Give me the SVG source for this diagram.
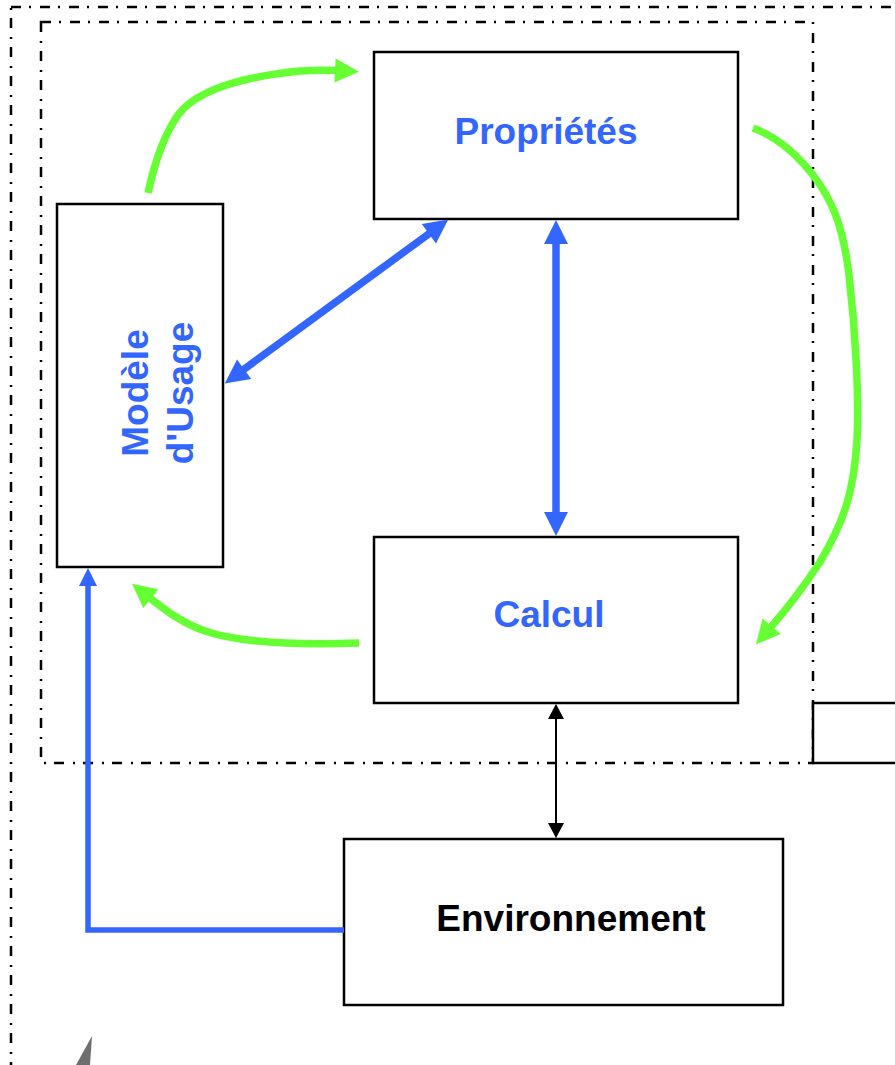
<svg xmlns="http://www.w3.org/2000/svg" width="895" height="1065" viewBox="0 0 895 1065">
  <style>
    .frame { fill: none; stroke: #000; stroke-width: 2.5; stroke-dasharray: 10 8 2 9; }
    .box { fill: #fff; stroke: #000; stroke-width: 2.5; }
    .label { font-family: "Liberation Sans", Arial, sans-serif; font-weight: bold; font-size: 37px; text-anchor: middle; }
    .blue-text { fill: #3366ff; }
    .black-text { fill: #000; }
    .green { fill: none; stroke: #66ff33; stroke-width: 7.5; }
    .blue { fill: none; stroke: #3366ff; stroke-width: 7.5; }
    .blue-thin { fill: none; stroke: #3366ff; stroke-width: 5.5; }
    .black { fill: none; stroke: #000; stroke-width: 2; }
  </style>
  <defs>
    <marker id="head-green" markerUnits="userSpaceOnUse" markerWidth="30" markerHeight="30" refX="1" refY="0" viewBox="0 -15 30 30" orient="auto" overflow="visible">
      <path d="M0,-12 L24,0 L0,12 z" fill="#66ff33"/>
    </marker>
    <marker id="head-blue" markerUnits="userSpaceOnUse" markerWidth="30" markerHeight="30" refX="1" refY="0" viewBox="0 -15 30 30" orient="auto-start-reverse" overflow="visible">
      <path d="M0,-12 L24,0 L0,12 z" fill="#3366ff"/>
    </marker>
    <marker id="head-blue-small" markerUnits="userSpaceOnUse" markerWidth="24" markerHeight="24" refX="1" refY="0" viewBox="0 -12 24 24" orient="auto" overflow="visible">
      <path d="M0,-9 L18,0 L0,9 z" fill="#3366ff"/>
    </marker>
    <marker id="head-black" markerUnits="userSpaceOnUse" markerWidth="20" markerHeight="20" refX="1" refY="0" viewBox="0 -10 20 20" orient="auto-start-reverse" overflow="visible">
      <path d="M0,-8 L15,0 L0,8 z" fill="#000"/>
    </marker>
  </defs>

  <rect width="895" height="1065" fill="#fff"/>

  <!-- dash-dot boundaries -->
  <g id="boundaries">
    <rect class="frame" x="11" y="7" width="1000" height="1200"/>
    <rect class="frame" x="41" y="22" width="772" height="741"/>
  </g>

  <!-- partially visible box at the right edge -->
  <g id="side-box">
    <rect class="box" x="813" y="703" width="100" height="60"/>
  </g>

  <g id="proprietes">
    <rect class="box" x="374" y="52" width="364" height="167"/>
    <text class="label blue-text" x="546" y="144">Propriétés</text>
  </g>

  <g id="modele-usage">
    <rect class="box" x="57" y="204" width="166" height="363"/>
    <text class="label blue-text" transform="translate(148,393) rotate(-90)">Modèle</text>
    <text class="label blue-text" transform="translate(193,393) rotate(-90)">d'Usage</text>
  </g>

  <g id="calcul">
    <rect class="box" x="374" y="537" width="364" height="166"/>
    <text class="label blue-text" x="549" y="627">Calcul</text>
  </g>

  <g id="environnement">
    <rect class="box" x="344" y="839" width="439" height="166"/>
    <text class="label black-text" x="571" y="931">Environnement</text>
  </g>

  <g id="connectors">
    <!-- usage model <-> properties -->
    <line class="blue" x1="243.3" y1="369.8" x2="429.7" y2="233.2" marker-start="url(#head-blue)" marker-end="url(#head-blue)"/>
    <!-- properties <-> computation -->
    <line class="blue" x1="556" y1="243" x2="556" y2="513" marker-start="url(#head-blue)" marker-end="url(#head-blue)"/>
    <!-- computation <-> environment -->
    <line class="black" x1="556" y1="718" x2="556" y2="824" marker-start="url(#head-black)" marker-end="url(#head-black)"/>
    <!-- environment -> usage model -->
    <polyline class="blue-thin" points="344,930 88,930 88,585" stroke-linejoin="miter" marker-end="url(#head-blue-small)"/>
    <!-- feedback loop -->
    <path class="green" d="M148,193 C155,160 164,135 178,115 C198,88 250,76 300,71 C315,70 326,70 336,70.5" marker-end="url(#head-green)"/>
    <path class="green" d="M753,128 C775,136 795,152 813,175 C832,200 843,225 849,275 C856,335 859,400 857,440 C854,490 845,520 820,562 C805,585 790,605 771,627" marker-end="url(#head-green)"/>
    <path class="green" d="M359,643 C300,645 240,643 205,631 C182,623 165,610 150,598" marker-end="url(#head-green)"/>
  </g>

  <!-- grey sliver at the lower left -->
  <polygon points="92,1036 90,1065 76,1065" fill="#6e6e6e"/>
</svg>
